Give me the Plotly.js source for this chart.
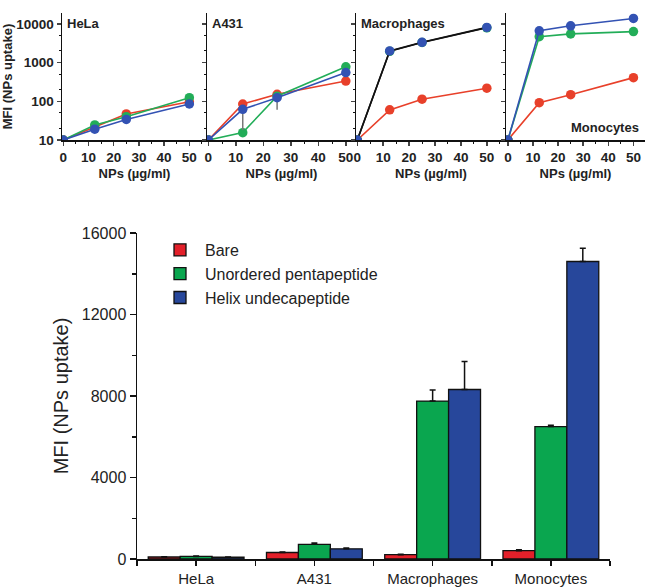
<!DOCTYPE html>
<html><head><meta charset="utf-8">
<script src="https://cdn.plot.ly/plotly-3.0.1.min.js"></script>
<style>html,body{margin:0;padding:0;background:#fff}</style>
</head><body><div id="chart" style="width:645px;height:588px"></div>
<script>
// ---------- data ----------
const doses = [0, 12.5, 25, 50];
const cellLines = ['HeLa', 'A431', 'Macrophages', 'Monocytes'];
const seriesNames = ['Bare', 'Unordered pentapeptide', 'Helix undecapeptide'];

const helaBare = [10, 22, 47, 97];
const helaUnordered = [10, 24.5, 40, 124];
const helaHelix = [10, 19, 34, 85];

const a431Bare = [10, 85, 152, 333];
const a431Unordered = [10, 15.5, 135, 780];
const a431Helix = [10, 62, 124, 550];
const a431HelixErrMinus = [0, 44, 64, 0];

const macBare = [10, 60, 113, 218];
const macUnordered = [10, 1950, 3300, 7900];
const macHelix = [10, 2000, 3330, 8100];

const monoBare = [10, 92, 148, 408];
const monoUnordered = [10, 4650, 5500, 6300];
const monoHelix = [10, 6600, 8900, 13800];

const barBare = [97, 320, 210, 410];
const barUnordered = [124, 720, 7750, 6500];
const barHelix = [85, 500, 8320, 14600];
const errBare = [15, 20, 20, 40];
const errUnordered = [20, 70, 540, 60];
const errHelix = [10, 40, 1370, 650];

const logTickVals = [10, 100, 1000, 10000];
const logTickText = ['10', '100', '1000', '10000'];
const doseTicks = [0, 10, 20, 30, 40, 50];
const barTickVals = [0, 4000, 8000, 12000, 16000];
const barTickText = ['0', '4000', '8000', '12000', '16000'];

// ---------- style ----------
const F = 'Arial, "Liberation Sans", sans-serif';
const W = 645, H = 588;
const px = v => v / W, py = v => 1 - v / H;
const cRed = '#e8402a', cGreen = '#22ad58', cBlue = '#3352b3';
const bRed = '#e3202a', bGreen = '#0aa64f', bBlue = '#27479b';

const panels = [
  {name: 'HeLa', data: [helaBare, helaUnordered, helaHelix], dom: [62, 207], range: [-0.5, 57], lineCols: [cRed, cGreen, cBlue]},
  {name: 'A431', data: [a431Bare, a431Unordered, a431Helix], dom: [207, 356], range: [-0.5, 53.7], lineCols: [cRed, cGreen, cBlue], errMinus: a431HelixErrMinus},
  {name: 'Macrophages', data: [macBare, macUnordered, macHelix], dom: [356, 506], range: [-0.5, 57.4], lineCols: [cRed, '#111', '#111']},
  {name: 'Monocytes', data: [monoBare, monoUnordered, monoHelix], dom: [506, 645], range: [-0.75, 54.6], lineCols: [cRed, cGreen, cBlue]}
];
const markerCols = [cRed, cGreen, cBlue];

const traces = [];
const layout = {
  width: W, height: H,
  margin: {l: 0, r: 0, t: 0, b: 0},
  paper_bgcolor: '#fff', plot_bgcolor: 'rgba(0,0,0,0)',
  showlegend: true,
  font: {family: F, color: '#222'},
  barmode: 'group', bargap: 0.19, bargroupgap: 0,
  annotations: [],
  legend: {x: px(155), y: py(233), xanchor: 'left', yanchor: 'top',
           font: {family: F, size: 16, color: '#222'}, bgcolor: 'rgba(0,0,0,0)',
           tracegroupgap: 0, itemwidth: 40}
};

panels.forEach((p, i) => {
  const n = i + 1, sfx = n === 1 ? '' : String(n);
  p.data.forEach((ys, k) => {
    const t = {
      type: 'scatter', mode: 'lines+markers', x: doses, y: ys,
      xaxis: 'x' + sfx, yaxis: 'y' + sfx, showlegend: false,
      name: seriesNames[k],
      line: {color: p.lineCols[k], width: 1.6},
      marker: {color: markerCols[k], size: 9.5}
    };
    if (k === 2 && p.errMinus) {
      t.error_y = {type: 'data', symmetric: false, array: doses.map(() => 0), arrayminus: p.errMinus,
                   color: '#777', thickness: 1.5, width: 0};
    }
    traces.push(t);
  });
  layout['xaxis' + sfx] = {
    domain: [px(p.dom[0]), px(p.dom[1])], range: p.range, anchor: 'y' + sfx,
    tickmode: 'array', tickvals: doseTicks, ticks: 'outside', ticklen: 4, tickwidth: 1.5,
    showline: true, linewidth: 1.5, linecolor: '#111', showgrid: false, zeroline: false,
    tickfont: {family: F, size: 13.5, weight: 'bold', color: '#222'},
    minor: {tickmode: 'linear', tick0: 0, dtick: 5, ticks: 'outside', ticklen: 2, tickwidth: 1, tickcolor: '#111'},
    title: {text: 'NPs (µg/ml)', font: {family: F, size: 13, weight: 'bold', color: '#222'}, standoff: 5}
  };
  layout['yaxis' + sfx] = {
    domain: [py(140), py(13)], type: 'log', range: [1, 4.28], anchor: 'x' + sfx,
    tickmode: 'array', tickvals: logTickVals, ticktext: logTickText, showticklabels: n === 1,
    ticks: 'outside', ticklen: 4, tickwidth: 1.5,
    showline: true, linewidth: 1.5, linecolor: '#111', showgrid: false, zeroline: false,
    tickfont: {family: F, size: 13.5, weight: 'bold', color: '#222'},
    minor: {dtick: 'D2', ticks: 'outside', ticklen: 2, tickwidth: 1, tickcolor: '#111'},
    title: n === 1 ? {text: 'MFI (NPs uptake)', font: {family: F, size: 13, weight: 'bold', color: '#222'}, standoff: 3} : {text: ''}
  };
  const isMono = p.name === 'Monocytes';
  layout.annotations.push({
    text: p.name, xref: 'x' + sfx + ' domain', yref: 'y' + sfx + ' domain',
    x: isMono ? 0.97 : 0.02, y: isMono ? 0.1 : 0.99,
    xanchor: isMono ? 'right' : 'left', yanchor: isMono ? 'middle' : 'top',
    showarrow: false, font: {family: F, size: 13, weight: 'bold', color: '#222'}
  });
});

// ---------- bar chart ----------
const barX = cellLines.map((c, i) => i);
[[barBare, errBare, bRed], [barUnordered, errUnordered, bGreen], [barHelix, errHelix, bBlue]].forEach((s, k) => {
  traces.push({
    type: 'bar', x: barX, y: s[0], name: seriesNames[k],
    xaxis: 'x5', yaxis: 'y5',
    marker: {color: s[2], line: {color: '#111', width: 1.3}},
    error_y: {type: 'data', symmetric: false, array: s[1], arrayminus: s[1].map(() => 0),
              color: '#111', thickness: 1.5, width: 3}
  });
});
layout.xaxis5 = {
  domain: [px(137), px(610)], range: [-0.5, 3.5], anchor: 'y5',
  tickmode: 'array', tickvals: barX, ticktext: cellLines,
  ticks: 'outside', ticklen: 5, tickwidth: 1.5, tickcolor: '#111',
  minor: {tickmode: 'linear', tick0: 0.5, dtick: 1, ticks: 'outside', ticklen: 5, tickwidth: 1.5, tickcolor: '#111'},
  showline: true, linewidth: 1.5, linecolor: '#111', showgrid: false, zeroline: false,
  tickfont: {family: F, size: 15, color: '#222'}
};
layout.yaxis5 = {
  domain: [py(559), py(233)], range: [0, 16000], anchor: 'x5',
  tickmode: 'array', tickvals: barTickVals, ticktext: barTickText,
  ticks: 'outside', ticklen: 6, tickwidth: 1.5, tickcolor: '#111',
  minor: {tickmode: 'linear', tick0: 0, dtick: 2000, ticks: 'outside', ticklen: 4, tickwidth: 1.5, tickcolor: '#111'},
  showline: true, linewidth: 1.5, linecolor: '#111', showgrid: false, zeroline: false,
  tickfont: {family: F, size: 16, color: '#222'},
  title: {text: 'MFI (NPs uptake)', font: {family: F, size: 20, color: '#222'}, standoff: 8}
};

Plotly.newPlot('chart', traces, layout, {displayModeBar: false, staticPlot: true});
</script>
</body></html>
